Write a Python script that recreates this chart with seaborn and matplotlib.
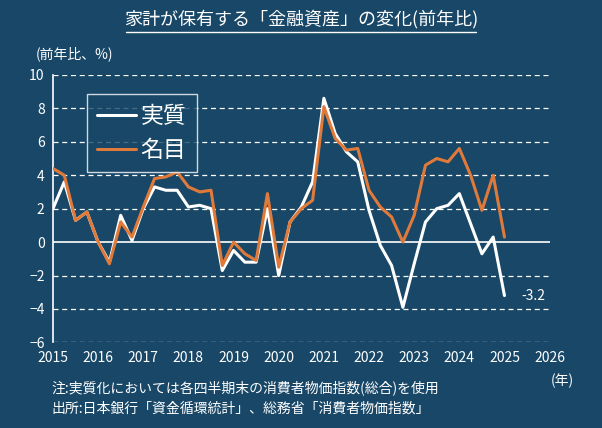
import matplotlib.pyplot as plt
import numpy as np
import pandas as pd
import seaborn as sns

sns.set_style('dark')
plt.rcParams['font.family'] = ['Noto Sans CJK JP', 'DejaVu Sans']

bg = '#184767'

# 2015Q1 - 2025Q1, 前年比(%)
jisshitsu = [2.0, 3.6, 1.3, 1.8, 0.0, -1.2, 1.6, 0.1, 2.0, 3.3, 3.1, 3.1,
             2.1, 2.2, 2.0, -1.7, -0.5, -1.2, -1.2, 2.0, -2.0, 1.2, 2.1, 3.6,
             8.6, 6.5, 5.4, 4.8, 1.9, -0.2, -1.4, -3.9, -1.3, 1.2, 2.0, 2.2,
             2.9, 1.1, -0.7, 0.3, -3.2]
meimoku = [4.4, 4.0, 1.3, 1.8, 0.0, -1.3, 1.2, 0.3, 2.1, 3.8, 3.9, 4.2,
           3.3, 3.0, 3.1, -1.4, 0.0, -0.7, -1.1, 2.9, -1.5, 1.2, 2.0, 2.5,
           8.1, 6.2, 5.5, 5.6, 3.1, 2.1, 1.5, 0.0, 1.6, 4.6, 5.0, 4.8,
           5.6, 4.0, 1.9, 4.0, 0.3]
t = 2015 + np.arange(len(jisshitsu)) / 4
df = pd.DataFrame({'t': t, '実質': jisshitsu, '名目': meimoku})

fig = plt.figure(figsize=(6.02, 4.28), dpi=100, facecolor=bg)
ax = fig.add_axes([0.088, 0.2, 0.825, 0.625], facecolor=bg)

for v in range(-6, 11, 2):
    if v == 0:
        ax.axhline(0, color='white', lw=1.2, zorder=1)
    else:
        ax.axhline(v, color='white', lw=0.9, ls=(0, (4, 3)), zorder=1)

sns.lineplot(data=df, x='t', y='実質', color='white', lw=2.2, ax=ax, label='実質', zorder=3)
sns.lineplot(data=df, x='t', y='名目', color='#e07a3a', lw=2.2, ax=ax, label='名目', zorder=4)

ax.annotate('-3.2', (t[-1], jisshitsu[-1]), xytext=(12, 0), textcoords='offset points',
            color='white', fontsize=10, va='center')

ax.set_xlim(2015, 2026)
ax.set_ylim(-6, 10)
ax.set_xticks(range(2015, 2027))
ax.set_yticks(range(-6, 11, 2))
ax.tick_params(colors='white', labelsize=10, length=0, pad=6)
ax.grid(False)
ax.set_xlabel('')
ax.set_ylabel('')
for s in ['top', 'right', 'bottom']:
    ax.spines[s].set_visible(False)
ax.spines['left'].set_color('white')
ax.spines['left'].set_linewidth(1.2)

leg = ax.legend(loc='upper left', bbox_to_anchor=(0.045, 0.97), fontsize=16.5, frameon=True,
                handlelength=1.7, handletextpad=0.2, borderpad=0.45, labelspacing=0.5,
                fancybox=False)
leg.get_frame().set_facecolor(bg)
leg.get_frame().set_edgecolor('white')
for txt in leg.get_texts():
    txt.set_color('white')

fig.text(0.5, 0.955, '家計が保有する「金融資産」の変化(前年比)', color='white', fontsize=13,
         ha='center', va='center')
fig.add_artist(plt.Line2D([0.21, 0.79], [0.925, 0.925], color='white', lw=1))
fig.text(0.06, 0.875, '(前年比、%)', color='white', fontsize=10, va='center')
fig.text(0.915, 0.11, '(年)', color='white', fontsize=10, va='center')
fig.text(0.085, 0.093, '注:実質化においては各四半期末の消費者物価指数(総合)を使用', color='white',
         fontsize=10, va='center')
fig.text(0.085, 0.045, '出所:日本銀行「資金循環統計」、総務省「消費者物価指数」', color='white',
         fontsize=10, va='center')

fig.savefig('out.png', dpi=100, facecolor=bg)
